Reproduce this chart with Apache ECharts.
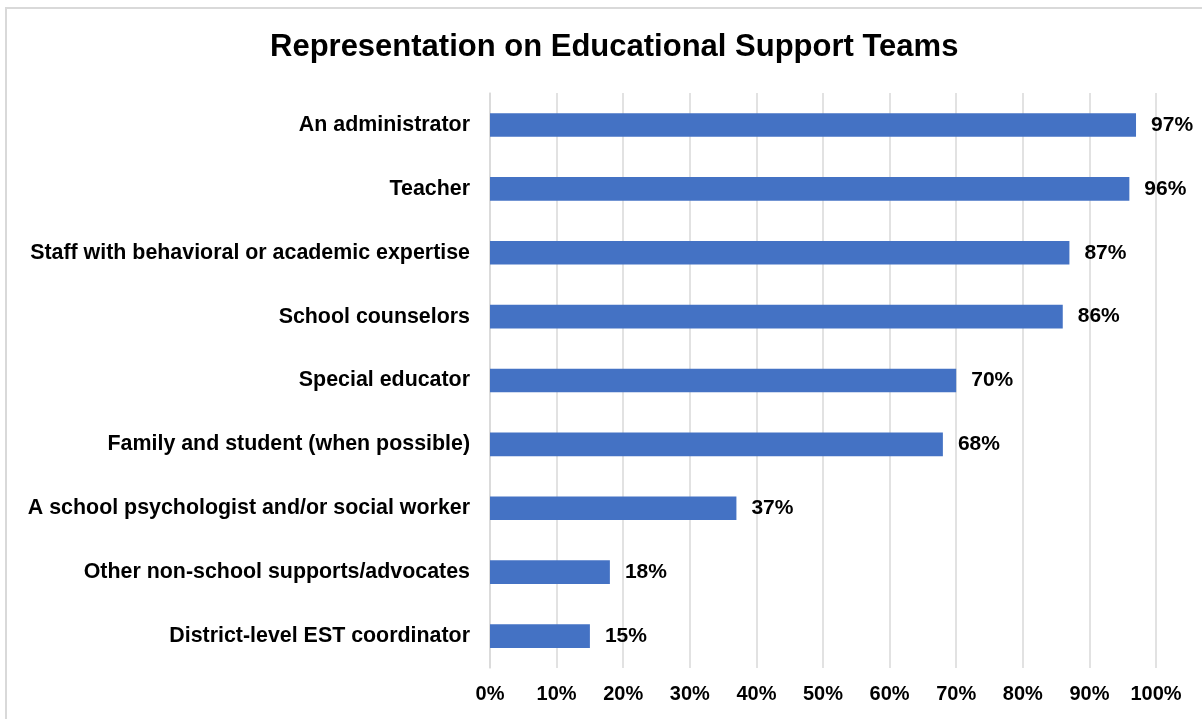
<!DOCTYPE html>
<html>
<head>
<meta charset="utf-8">
<script src="https://cdn.jsdelivr.net/npm/echarts@6/dist/echarts.min.js"></script>
<style>
  html, body { margin: 0; padding: 0; background: #fff; }
  #chart { width: 1202px; height: 719px; }
</style>
</head>
<body>
<div id="chart"></div>
<script>
// Team roles, listed top to bottom
const categories = [
  'An administrator',
  'Teacher',
  'Staff with behavioral or academic expertise',
  'School counselors',
  'Special educator',
  'Family and student (when possible)',
  'A school psychologist and/or social worker',
  'Other non-school supports/advocates',
  'District-level EST coordinator'
];
// Share of teams including each role (%)
const values = [97, 96, 87, 86, 70, 68, 37, 18, 15];
const chartTitle = 'Representation on Educational Support Teams';

const font = '"Liberation Sans", Arial, sans-serif';

const chart = echarts.init(document.getElementById('chart'), null, { renderer: 'canvas' });
chart.setOption({
  backgroundColor: '#ffffff',
  animation: false,
  graphic: [{
    type: 'rect',
    shape: { x: 6, y: 8, width: 1260, height: 800 },
    style: { fill: 'none', stroke: '#d9d9d9', lineWidth: 2 },
    silent: true
  }],
  title: {
    text: chartTitle,
    left: 270,
    top: 32,
    padding: 0,
    textStyle: { fontFamily: font, fontWeight: 'bold', fontSize: 31, color: '#000' }
  },
  grid: { left: 490, right: 46, top: 93, bottom: 51, containLabel: false },
  xAxis: {
    type: 'value',
    min: 0,
    max: 100,
    interval: 10,
    axisLine: { show: false },
    axisTick: { show: false },
    splitLine: { lineStyle: { color: '#d9d9d9', width: 1.5 } },
    axisLabel: {
      formatter: '{value}%',
      margin: 16,
      fontFamily: font, fontWeight: 'bold', fontSize: 20, color: '#000'
    }
  },
  yAxis: {
    type: 'category',
    data: categories,
    inverse: true,
    axisLine: { show: true, lineStyle: { color: '#d9d9d9', width: 1.5 } },
    axisTick: { show: false },
    axisLabel: {
      margin: 20,
      fontFamily: font, fontWeight: 'bold', fontSize: 21.4, color: '#000',
      padding: [3, 0, 0, 0]
    }
  },
  series: [{
    type: 'bar',
    data: values,
    barWidth: '37%',
    itemStyle: { color: '#4472C4' },
    label: {
      show: true,
      position: 'right',
      distance: 15,
      formatter: '{c}%',
      fontFamily: font, fontWeight: 'bold', fontSize: 21, color: '#000'
    }
  }]
});
</script>
</body>
</html>
